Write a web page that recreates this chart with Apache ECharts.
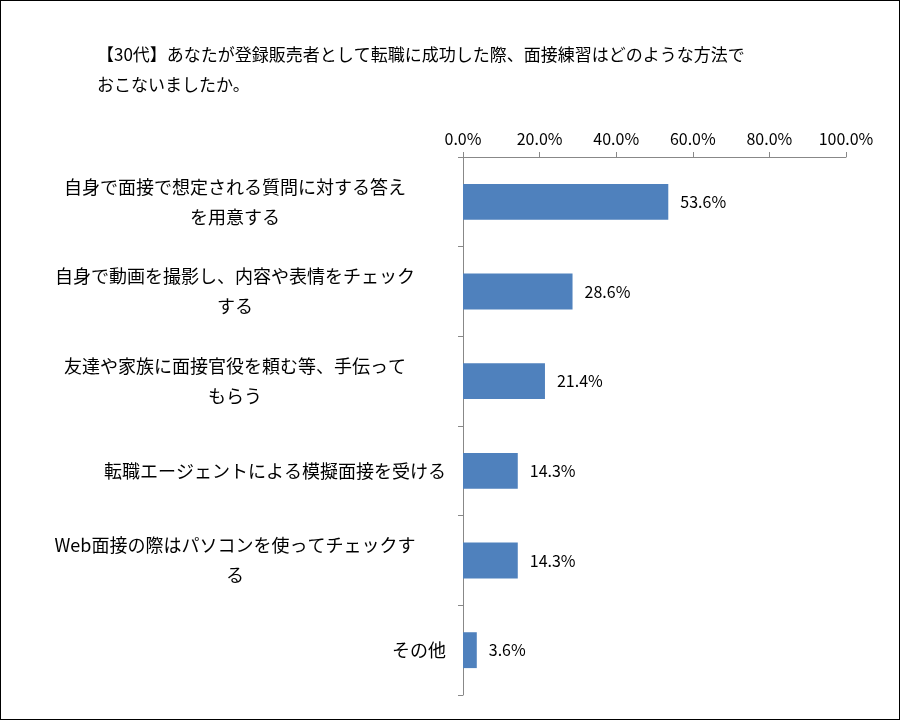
<!DOCTYPE html>
<html><head><meta charset="utf-8">
<script src="https://cdn.jsdelivr.net/npm/echarts@6/dist/echarts.min.js"></script>
<style>html,body{margin:0;padding:0;background:#fff}#c{width:898px;height:718px;border:1px solid #000}</style>
</head><body><div id="c"></div>
<script>
const titleText = '【30代】あなたが登録販売者として転職に成功した際、面接練習はどのような方法で\nおこないましたか。';
const categories = [
  '自身で面接で想定される質問に対する答え\nを用意する',
  '自身で動画を撮影し、内容や表情をチェック\nする',
  '友達や家族に面接官役を頼む等、手伝って\nもらう',
  '転職エージェントによる模擬面接を受ける',
  'Web面接の際はパソコンを使ってチェックす\nる',
  'その他'
];
const values = [53.6, 28.6, 21.4, 14.3, 14.3, 3.6];
const chart = echarts.init(document.getElementById('c'));
const font = '"Noto Sans CJK JP", sans-serif';
chart.setOption({
  animation: false,
  title: {text: titleText, left: 91, top: 34, textStyle: {fontFamily: font, fontSize: 17, fontWeight: 'normal', color: '#000', lineHeight: 30}},
  grid: {left: 462, right: 53, top: 156, bottom: 24, containLabel: false},
  xAxis: {type: 'value', position: 'top', min: 0, max: 100, interval: 20,
    axisLine: {show: true, lineStyle: {color: '#888'}},
    axisTick: {show: true, length: 5, lineStyle: {color: '#888'}},
    splitLine: {show: false},
    axisLabel: {formatter: v => v.toFixed(1) + '%', fontFamily: font, fontSize: 16, color: '#000', margin: 10}},
  yAxis: {type: 'category', inverse: true, data: categories,
    axisLine: {lineStyle: {color: '#888'}},
    axisTick: {show: true, length: 5, lineStyle: {color: '#888'}},
    axisLabel: {fontFamily: font, fontSize: 18, color: '#000', lineHeight: 30, margin: 17, align: 'right',
      formatter: v => v.indexOf('\n') >= 0 ? v.split('\n').map(s => '{c|' + s + '}').join('\n') : v,
      rich: {c: {fontFamily: font, fontSize: 18, color: '#000', lineHeight: 30, width: 422, align: 'center'}}}},
  series: [{type: 'bar', data: values, barWidth: '40%', itemStyle: {color: '#4f81bd'},
    label: {show: true, position: 'right', distance: 12, formatter: p => p.value.toFixed(1) + '%', fontFamily: font, fontSize: 16, color: '#000'}}]
});
</script></body></html>
